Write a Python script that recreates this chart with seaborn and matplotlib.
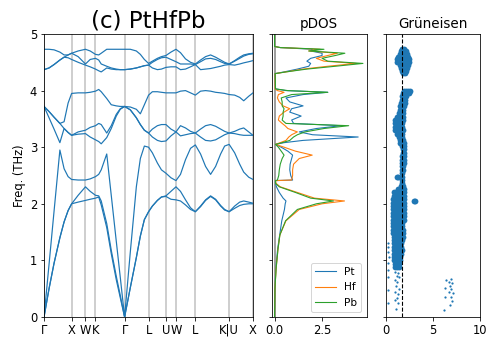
import matplotlib
matplotlib.use('Agg')
import matplotlib.pyplot as plt
import seaborn as sns


# ==========================================
# band structure data (path coordinate, THz)
# ==========================================
kpath = [0, 5, 10, 15.8, 20, 24, 27.5,
         34, 41.3,
         46, 51.3,
         54.5, 57, 62.5, 67, 72, 76, 80.3,
         86, 92, 96, 100, 104.2,
         108, 113, 117, 121.5,
         126.5, 131.5,
         136, 141, 146, 150.8,
         156, 161, 166, 171, 176, 180, 184.5,
         190, 195, 199, 204, 208.3]

band1 = [0, 0.50, 0.95, 1.40, 1.68, 1.88, 2.00,
         2.03, 2.06,
         2.08, 2.10,
         2.12, 1.98, 1.58, 1.12, 0.66, 0.34, 0,
         0.52, 1.05, 1.43, 1.72, 1.86,
         1.96, 2.06, 2.12, 2.13,
         2.08, 2.07,
         2.05, 1.98, 1.90, 1.86,
         1.95, 2.06, 2.13, 2.07, 1.96, 1.89, 1.86,
         1.92, 1.97, 1.99, 2.00, 2.00]
band2 = [0, 0.50, 0.95, 1.40, 1.68, 1.88, 2.00,
         2.15, 2.30,
         2.22, 2.15,
         2.14, 2.05, 1.65, 1.18, 0.72, 0.38, 0,
         0.52, 1.05, 1.43, 1.72, 1.86,
         1.96, 2.06, 2.12, 2.14,
         2.22, 2.30,
         2.22, 2.07, 1.93, 1.86,
         1.96, 2.07, 2.14, 2.08, 1.97, 1.90, 1.86,
         1.96, 2.03, 2.05, 2.03, 2.01]
band3 = [0, 0.93, 1.87, 2.95, 2.62, 2.48, 2.43,
         2.42, 2.42,
         2.44, 2.48,
         2.52, 2.60, 2.88, 2.15, 1.34, 0.70, 0,
         1.15, 2.30, 2.80, 3.02, 3.00,
         2.90, 2.72, 2.60, 2.54,
         2.46, 2.41,
         2.52, 2.78, 2.98, 3.04,
         2.88, 2.66, 2.52, 2.66, 2.88, 3.02, 3.05,
         2.90, 2.70, 2.56, 2.47, 2.43]
band4 = [3.72, 3.52, 3.32, 3.08, 3.33, 3.26, 3.21,
         3.23, 3.24,
         3.18, 3.13,
         3.10, 3.06, 3.17, 3.33, 3.55, 3.67, 3.72,
         3.66, 3.52, 3.40, 3.30, 3.25,
         3.18, 3.12, 3.10, 3.11,
         3.20, 3.27,
         3.20, 3.22, 3.24, 3.25,
         3.18, 3.12, 3.11, 3.13, 3.18, 3.22, 3.25,
         3.24, 3.22, 3.21, 3.21, 3.21]
band5 = [3.72, 3.63, 3.53, 3.42, 3.33, 3.26, 3.21,
         3.27, 3.30,
         3.35, 3.38,
         3.42, 3.40, 3.25, 3.38, 3.58, 3.68, 3.72,
         3.66, 3.52, 3.40, 3.30, 3.25,
         3.32, 3.38, 3.40, 3.40,
         3.32, 3.27,
         3.38, 3.34, 3.28, 3.25,
         3.32, 3.38, 3.40, 3.37, 3.32, 3.28, 3.25,
         3.28, 3.32, 3.34, 3.27, 3.21]
band6 = [3.72, 3.63, 3.53, 3.42, 3.45, 3.78, 3.95,
         3.96, 3.96,
         3.97, 3.99,
         4.02, 3.98, 3.86, 3.75, 3.73, 3.72, 3.72,
         3.71, 3.67, 3.59, 3.75, 3.92,
         3.98, 3.98, 3.97, 3.96,
         3.96, 3.96,
         3.99, 4.00, 3.96, 3.92,
         3.99, 4.00, 3.99, 3.97, 3.96, 3.95, 3.93,
         3.92, 3.88, 3.82, 3.90, 3.96]
band7 = [4.37, 4.40, 4.46, 4.54, 4.59, 4.58, 4.55,
         4.50, 4.45,
         4.42, 4.38,
         4.35, 4.33, 4.40, 4.38, 4.37, 4.37, 4.37,
         4.38, 4.40, 4.42, 4.44, 4.45,
         4.40, 4.37, 4.38, 4.41,
         4.42, 4.42,
         4.37, 4.38, 4.42, 4.46,
         4.37, 4.38, 4.39, 4.41, 4.43, 4.45, 4.46,
         4.45, 4.47, 4.49, 4.51, 4.53]
band8 = [4.37, 4.40, 4.46, 4.54, 4.59, 4.63, 4.66,
         4.60, 4.47,
         4.55, 4.57,
         4.54, 4.47, 4.43, 4.40, 4.38, 4.37, 4.37,
         4.38, 4.40, 4.42, 4.44, 4.45,
         4.50, 4.55, 4.58, 4.59,
         4.55, 4.51,
         4.47, 4.47, 4.47, 4.46,
         4.51, 4.56, 4.57, 4.55, 4.51, 4.48, 4.47,
         4.52, 4.57, 4.61, 4.64, 4.65]
band9 = [4.73, 4.73, 4.72, 4.68, 4.63, 4.63, 4.66,
         4.70, 4.73,
         4.70, 4.64,
         4.63, 4.66, 4.73, 4.73, 4.73, 4.73, 4.73,
         4.73, 4.70, 4.64, 4.55, 4.48,
         4.52, 4.57, 4.60, 4.62,
         4.68, 4.73,
         4.67, 4.56, 4.50, 4.47,
         4.54, 4.60, 4.63, 4.59, 4.54, 4.50, 4.47,
         4.53, 4.59, 4.63, 4.65, 4.66]
bands = [band1, band2, band3, band4, band5, band6, band7, band8, band9]

tick_pos = [0, 27.5, 41.3, 51.3, 80.3, 104.2, 121.5, 131.5, 150.8, 184.5, 208.3]
tick_labels = ['Γ', 'X', 'W', 'K', 'Γ', 'L', 'U', 'W', 'L', 'K|U', 'X']

# ==========================================
# projected DOS
# ==========================================
dos_freq = [0.0, 0.5, 0.85, 1.2, 1.45, 1.7, 1.9, 2.0, 2.05, 2.1, 2.2, 2.3, 2.36, 2.41,
            2.42, 2.5, 2.6, 2.7, 2.8, 2.86, 2.93, 3.0, 3.05,
            3.08, 3.12, 3.18, 3.22, 3.27, 3.33, 3.38, 3.42, 3.48, 3.55, 3.62, 3.68, 3.73,
            3.8, 3.87, 3.93, 3.97, 4.0, 4.03,
            4.3, 4.33, 4.38, 4.43, 4.48, 4.52, 4.57, 4.62, 4.66, 4.7, 4.73, 4.76, 4.78, 5.0]
dos_pt = [0, 0.02, 0.07, 0.16, 0.27, 0.38, 0.52, 0.56, 0.60, 0.45, 0.25, 0.10, 0.05, 0.05,
          0.95, 0.85, 0.80, 0.82, 0.90, 0.95, 0.70, 0.35, 0.05,
          0.5, 1.5, 4.4, 2.0, 1.3, 2.2, 3.5, 1.0, 0.9, 1.4, 0.8, 0.9, 1.5,
          0.8, 0.6, 1.5, 2.8, 0.6, 0.05,
          0.03, 0.5, 1.2, 1.8, 1.9, 1.7, 1.9, 2.5, 2.5, 1.9, 2.0, 0.3, 0, 0]
dos_hf = [0, 0.02, 0.08, 0.18, 0.28, 0.60, 1.30, 2.50, 3.68, 2.10, 1.20, 0.30, 0.08, 0.05,
          0.90, 0.95, 0.95, 1.00, 1.30, 1.98, 1.10, 0.50, 0.05,
          0.3, 0.6, 0.75, 0.9, 1.2, 0.7, 0.55, 0.4, 0.2, 0.25, 0.5, 0.8, 0.45,
          0.25, 0.15, 0.2, 0.5, 0.15, 0.03,
          0.03, 0.6, 1.5, 2.8, 4.3, 2.6, 2.2, 2.8, 3.3, 1.8, 2.4, 0.3, 0, 0]
dos_pb = [0, 0.02, 0.08, 0.18, 0.28, 0.58, 1.20, 2.20, 3.10, 1.90, 1.10, 0.25, 0.05, 0.05,
          0.15, 0.22, 0.25, 0.30, 0.40, 0.50, 0.35, 0.20, 0.05,
          0.4, 0.8, 1.0, 1.2, 1.6, 2.6, 3.9, 0.6, 0.4, 0.45, 0.45, 0.5, 0.4,
          0.4, 0.35, 0.9, 2.8, 0.7, 0.05,
          0.03, 0.6, 1.7, 3.2, 4.65, 2.8, 2.5, 3.2, 3.7, 1.8, 2.6, 0.3, 0, 0]

# ==========================================
# Grüneisen parameters (freq row -> gammas)
# ==========================================
gru_dense = [
    (4.74, [1.75, 1.95]),
    (4.70, [1.55, 1.75, 1.95, 2.10]),
    (4.65, [1.45, 1.65, 1.85, 2.05, 2.25]),
    (4.60, [1.25, 1.45, 1.65, 1.85, 2.05, 2.30]),
    (4.55, [1.20, 1.40, 1.60, 1.80, 2.00, 2.25, 2.45]),
    (4.50, [1.20, 1.40, 1.60, 1.80, 2.00, 2.20, 2.40]),
    (4.45, [1.45, 1.65, 1.85, 2.05, 2.30]),
    (4.40, [1.60, 1.80, 2.00, 2.20]),
    (4.35, [1.70, 1.90, 2.10]),
    (4.31, [1.80, 2.00]),
    (4.00, [1.90, 2.10, 2.30, 2.50]),
    (3.95, [1.80, 2.00, 2.20, 2.40]),
    (3.90, [1.75, 1.95, 2.15]),
    (3.84, [1.65, 1.85, 2.05]),
    (3.78, [1.60, 1.80, 2.00]),
    (3.72, [1.50, 1.70, 1.90]),
    (3.66, [1.45, 1.65, 1.85]),
    (3.60, [1.40, 1.60, 1.80]),
    (3.54, [1.20, 1.40, 1.60, 1.80]),
    (3.48, [1.00, 1.20, 1.40, 1.60, 1.80]),
    (3.42, [0.95, 1.15, 1.35, 1.55, 1.75]),
    (3.36, [0.95, 1.15, 1.35, 1.55, 1.75]),
    (3.30, [1.00, 1.20, 1.40, 1.60, 1.80]),
    (3.24, [1.15, 1.35, 1.55, 1.75]),
    (3.18, [1.35, 1.55, 1.75]),
    (3.12, [1.45, 1.65, 1.85]),
    (3.07, [1.50, 1.70, 1.90]),
    (3.02, [1.75, 1.90]),
    (2.96, [1.80, 1.95]),
    (2.90, [1.80, 1.95]),
    (2.84, [1.75, 1.90]),
    (2.78, [1.75, 1.90]),
    (2.72, [1.75, 1.90]),
    (2.66, [1.70, 1.85]),
    (2.60, [1.70, 1.85]),
    (2.54, [1.70]),
    (2.48, [1.65]),
    (2.47, [1.12, 1.25]),
    (2.42, [1.65]),
    (2.36, [1.65]),
    (2.32, [1.60, 1.80]),
    (2.26, [1.30, 1.50, 1.70, 1.90]),
    (2.20, [0.90, 1.10, 1.30, 1.50, 1.70, 1.90]),
    (2.14, [0.80, 1.00, 1.20, 1.40, 1.60, 1.80, 1.95]),
    (2.08, [0.75, 0.95, 1.15, 1.35, 1.55, 1.75, 1.95]),
    (2.05, [3.00, 3.12]),
    (2.02, [0.72, 0.92, 1.12, 1.32, 1.52, 1.72, 1.92]),
    (1.96, [0.70, 0.90, 1.10, 1.30, 1.50, 1.70, 1.92]),
    (1.90, [0.70, 0.90, 1.10, 1.30, 1.50, 1.70, 1.90]),
    (1.84, [0.72, 0.92, 1.12, 1.32, 1.52, 1.72, 1.90]),
    (1.78, [0.70, 0.90, 1.10, 1.30, 1.50, 1.70, 1.88]),
    (1.72, [0.72, 0.92, 1.12, 1.32, 1.52, 1.72, 1.88]),
    (1.66, [0.75, 0.95, 1.15, 1.35, 1.55, 1.75]),
    (1.60, [0.75, 0.95, 1.15, 1.35, 1.55, 1.75]),
    (1.54, [0.78, 0.98, 1.18, 1.38, 1.58, 1.78]),
    (1.48, [0.78, 0.98, 1.18, 1.38, 1.58, 1.78]),
    (1.42, [0.80, 1.00, 1.20, 1.40, 1.60, 1.78]),
    (1.36, [0.80, 1.00, 1.20, 1.40, 1.60, 1.75]),
    (1.30, [0.82, 1.02, 1.22, 1.42, 1.62]),
    (1.24, [0.82, 1.02, 1.22, 1.42, 1.62]),
    (1.18, [0.85, 1.05, 1.25, 1.45, 1.65]),
    (1.12, [0.85, 1.05, 1.25, 1.45, 1.60]),
    (1.06, [0.90, 1.10, 1.30, 1.50]),
    (1.00, [0.90, 1.10, 1.30, 1.50]),
    (0.94, [0.95, 1.15, 1.35]),
    (0.88, [0.95, 1.15, 1.35]),
]
gru_sparse_gamma = [1.00, 1.30, 1.15, 1.40, 0.95, 1.20, 1.10, 1.35, 1.00, 1.25, 1.15, 0.95, 1.30, 1.10,
                    0.22, 0.25, 0.22, 0.28, 0.22, 0.25, 0.22, 0.25, 0.22,
                    6.35, 6.90, 6.70, 7.00, 6.80, 6.95, 6.30, 6.75, 7.10, 6.90, 6.30, 7.00, 6.85, 6.20]
gru_sparse_freq = [0.80, 0.78, 0.72, 0.70, 0.65, 0.62, 0.55, 0.50, 0.45, 0.40, 0.33, 0.30, 0.25, 0.14,
                   1.30, 1.24, 1.15, 1.06, 0.95, 0.83, 0.71, 0.48, 0.24,
                   0.66, 0.68, 0.62, 0.60, 0.55, 0.50, 0.52, 0.45, 0.42, 0.36, 0.35, 0.28, 0.22, 0.12]
gru_mean = 1.75

# ==========================================
# figure
# ==========================================
plt.rcParams['font.size'] = 11.5
fig = plt.figure(figsize=(498 / 72, 349 / 72), dpi=72)
ax1 = fig.add_axes([0.0884, 0.0917, 0.4197, 0.8109])
ax2 = fig.add_axes([0.5456, 0.0917, 0.1908, 0.8109])
ax3 = fig.add_axes([0.7751, 0.0917, 0.1888, 0.8109])

# 1. bands
for t in tick_pos:
    ax1.axvline(t, color='silver', lw=1.5, zorder=0)
for b in bands:
    sns.lineplot(x=kpath, y=b, ax=ax1, color='C0', lw=1.2, sort=False, estimator=None)
ax1.set_xlim(tick_pos[0], tick_pos[-1])
ax1.set_ylim(0, 5)
ax1.set_xticks(tick_pos)
ax1.set_xticklabels(tick_labels)
ax1.set_yticks([0, 1, 2, 3, 4, 5])
ax1.set_ylabel('Freq. (THz)')
ax1.set_title('(c) PtHfPb', fontsize=23)

# 2. pDOS
ax2.axvline(0, color='gray', lw=1.5, zorder=0)
for vals, name, c in [(dos_pt, 'Pt', 'C0'), (dos_hf, 'Hf', 'C1'), (dos_pb, 'Pb', 'C2')]:
    sns.lineplot(x=vals, y=dos_freq, ax=ax2, color=c, lw=1.1, orient='y',
                 sort=False, estimator=None, label=name)
ax2.set_xlim(-0.15, 4.85)
ax2.set_ylim(0, 5)
ax2.set_xticks([0, 2.5])
ax2.set_xticklabels(['0.0', '2.5'])
ax2.set_yticks([0, 1, 2, 3, 4, 5])
ax2.set_yticklabels([])
ax2.set_xlabel('')
ax2.set_ylabel('')
ax2.legend(loc='lower right', fontsize=10.5)
ax2.set_title('pDOS', fontsize=13.5)

# 3. Grüneisen
dense_g = [g for f, gs in gru_dense for g in gs]
dense_f = [f for f, gs in gru_dense for g in gs]
sns.scatterplot(x=dense_g, y=dense_f, ax=ax3, s=34, color='C0', linewidth=0)
sns.scatterplot(x=gru_sparse_gamma, y=gru_sparse_freq, ax=ax3, s=5, color='C0', linewidth=0)
ax3.axvline(gru_mean, color='k', ls='--', lw=1.1)
ax3.set_xlim(0, 10)
ax3.set_ylim(0, 5)
ax3.set_xticks([0, 5, 10])
ax3.set_yticks([0, 1, 2, 3, 4, 5])
ax3.set_yticklabels([])
ax3.set_title('Grüneisen', fontsize=13.5)

fig.savefig('out.png', dpi=72)
plt.close(fig)
